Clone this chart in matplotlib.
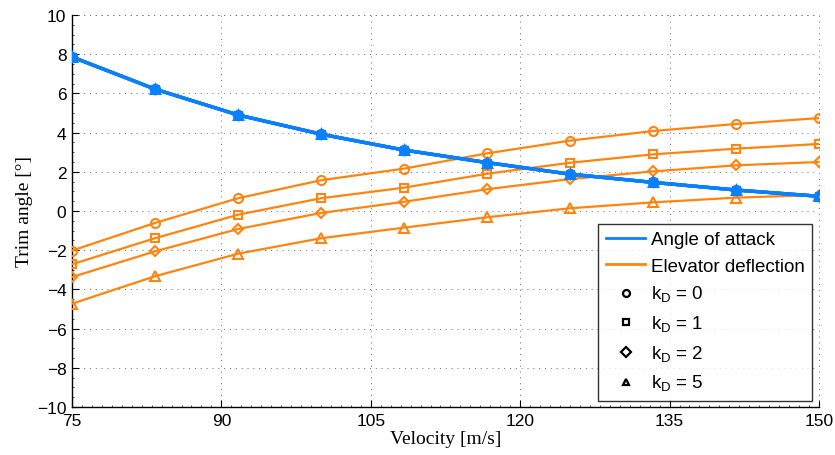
import matplotlib
matplotlib.use("Agg")
import matplotlib.pyplot as plt
from matplotlib.lines import Line2D
from matplotlib.ticker import MultipleLocator

# Flight speeds [m/s]
velocity = [75.0, 83.33, 91.67, 100.0, 108.33, 116.67, 125.0, 133.33, 141.67, 150.0]

# Trim angle of attack [deg] (identical for every derivative gain)
alpha = [7.86, 6.22, 4.90, 3.92, 3.11, 2.47, 1.88, 1.46, 1.07, 0.75]

# Trim elevator deflection [deg] for each derivative gain k_D
kd_values = [0, 1, 2, 5]
delta_e = {
    0: [-2.02, -0.61, 0.65, 1.57, 2.16, 2.94, 3.59, 4.08, 4.44, 4.74],
    1: [-2.72, -1.39, -0.19, 0.65, 1.19, 1.90, 2.46, 2.89, 3.18, 3.42],
    2: [-3.37, -2.06, -0.92, -0.10, 0.47, 1.11, 1.63, 2.02, 2.33, 2.50],
    5: [-4.73, -3.33, -2.18, -1.39, -0.85, -0.32, 0.14, 0.44, 0.68, 0.82],
}
markers = {0: "o", 1: "s", 2: "D", 5: "^"}
marker_sizes = {0: 6.5, 1: 5.5, 2: 5.0, 5: 6.5}

x_ticks = [75, 90, 105, 120, 135, 150]
y_ticks = [-10, -8, -6, -4, -2, 0, 2, 4, 6, 8, 10]

blue = "#0a80ff"
orange = "#ff8410"

plt.rcParams["font.family"] = ["Liberation Sans", "DejaVu Sans"]
plt.rcParams["axes.unicode_minus"] = True

fig = plt.figure(figsize=(8.35, 4.56), dpi=100)
ax = fig.add_axes([0.0862, 0.1053, 0.8946, 0.8596])

for kd in kd_values:
    ax.plot(velocity, delta_e[kd], color=orange, lw=1.6,
            marker=markers[kd], ms=marker_sizes[kd], mfc="none",
            mec=orange, mew=1.5, zorder=3)

for kd in kd_values:
    ax.plot(velocity, alpha, color=blue, lw=2.4,
            marker=markers[kd], ms=marker_sizes[kd] - 0.5, mfc="none",
            mec=blue, mew=2.2, zorder=4)

ax.set_xlim(75, 150)
ax.set_ylim(-10, 10)
ax.set_xticks(x_ticks)
ax.set_yticks(y_ticks)
ax.xaxis.set_minor_locator(MultipleLocator(1))
ax.yaxis.set_minor_locator(MultipleLocator(0.5))
ax.tick_params(which="major", direction="in", length=5, width=0.8,
               labelsize=12.5, colors="black", pad=4)
ax.tick_params(which="minor", direction="in", length=1.5, width=0.5)

grid_style = dict(linestyle=(0, (1, 5)), color="#6a6a6a", lw=0.7)
ax.grid(True, which="major", **grid_style)
ax.spines["top"].set_visible(False)
ax.spines["right"].set_visible(False)
for s in ("left", "bottom"):
    ax.spines[s].set_linewidth(1.0)
# dotted frame on the open sides
ax.axhline(10, clip_on=False, **grid_style)
ax.axvline(150, clip_on=False, **grid_style)

serif = ["Liberation Serif", "DejaVu Serif"]
ax.set_xlabel("Velocity [m/s]", family=serif, fontsize=14, labelpad=2)
ax.set_ylabel("Trim angle [°]", family=serif, fontsize=14, labelpad=3)

handles = [
    Line2D([], [], color=blue, lw=2.0),
    Line2D([], [], color=orange, lw=2.0),
]
labels = ["Angle of attack", "Elevator deflection"]
for kd in kd_values:
    handles.append(Line2D([], [], ls="none", marker=markers[kd], ms=5,
                          mfc="none", mec="black", mew=1.6))
    labels.append(r"k$_{\mathregular{D}}$ = %d" % kd)

leg = ax.legend(handles, labels, loc="lower right",
                bbox_to_anchor=(0.991, 0.0153), fontsize=13.5,
                frameon=True, fancybox=False, edgecolor="black",
                handlelength=2.1, handletextpad=0.3, borderpad=0.4,
                borderaxespad=0.0, labelspacing=0.5)
leg.get_frame().set_linewidth(1.0)
leg.set_zorder(10)

fig.savefig("out.png", dpi=100, facecolor="white")
